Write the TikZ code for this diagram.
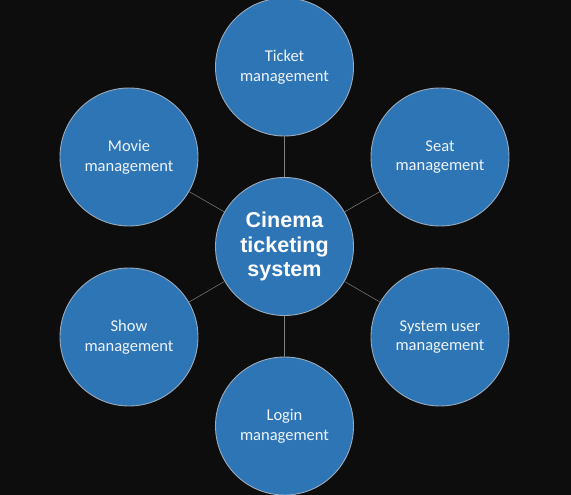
\documentclass[tikz,border=0pt]{standalone}
\usepackage{fontspec}
\setmainfont{Carlito}
\newfontfamily\arialb{Liberation Sans}[BoldFont={* Bold}]
\definecolor{bg}{HTML}{0D0D0D}
\definecolor{cfill}{HTML}{2E75B6}
\definecolor{cedge}{HTML}{9AAABB}
\definecolor{ctext}{HTML}{EEF4FA}
\definecolor{link}{HTML}{7F7F7F}
\begin{document}
\begin{tikzpicture}[x=1pt,y=-1pt,
  bubble/.style={circle,draw=cedge,line width=0.9pt,fill=cfill,minimum size=138pt,inner sep=0pt,
    text=ctext,font=\fontsize{16.5}{19.5}\selectfont,align=center},
  hub/.style={bubble,text=white,font=\arialb\bfseries\fontsize{21.5}{24.5}\selectfont},
  conn/.style={draw=link,line width=0.5pt}]
\fill[bg] (0,0) rectangle (571,495);
\useasboundingbox (0,0) rectangle (571,495);
\node[hub] (c) at (284.5,246.5) {Cinema\\ticketing\\system};
\node[bubble] (t) at (284.5,67) {Ticket\\management};
\node[bubble] (m) at (129,157) {Movie\\management};
\node[bubble] (s) at (440,157) {Seat\\management};
\node[bubble] (h) at (129,337) {Show\\management};
\node[bubble] (u) at (440,337) {System user\\management};
\node[bubble] (l) at (284.5,426) {Login\\management};
\foreach \n in {t,m,s,h,u,l} {\draw[conn] (c) -- (\n);}
\end{tikzpicture}
\end{document}
